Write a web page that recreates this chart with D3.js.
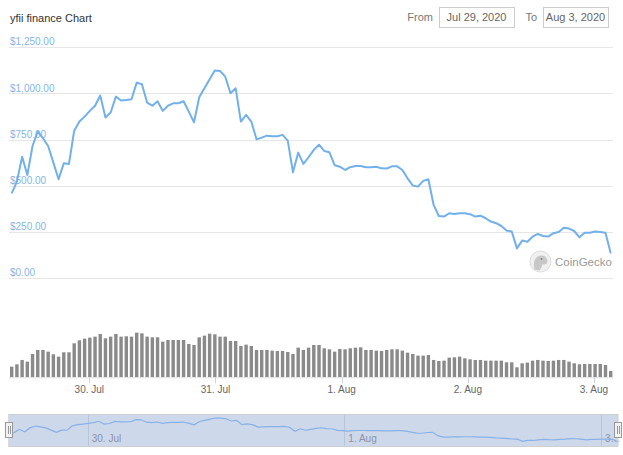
<!DOCTYPE html>
<html>
<head>
<meta charset="utf-8">
<script src="https://cdn.jsdelivr.net/npm/d3@7"></script>
<style>
  html, body { margin: 0; padding: 0; background: #fff; }
  svg { display: block; font-family: "Liberation Sans", Arial, sans-serif; }
</style>
</head>
<body>
<svg id="chart" width="623" height="455"></svg>
<script>
// hourly price (USD), Jul 29 09:14 -> Aug 3 03:11
var priceValues = [
    460, 523, 658, 559, 716, 794, 758, 716, 626, 536,
    622, 619, 799, 848, 875, 906, 934, 989, 870, 897,
    983, 962, 965, 969, 1059, 1050, 951, 934, 958, 906,
    934, 947, 947, 958, 902, 844, 980, 1028, 1077, 1124,
    1122, 1091, 1001, 1028, 848, 884, 848, 752, 761, 772,
    769, 769, 776, 745, 574, 680, 619, 655, 695, 723,
    689, 682, 612, 604, 586, 601, 608, 608, 601, 601,
    604, 595, 594, 606, 606, 586, 541, 502, 496, 527,
    536, 397, 337, 334, 352, 348, 352, 352, 347, 334,
    339, 325, 307, 298, 283, 258, 253, 162, 204, 198,
    225, 240, 229, 226, 244, 251, 274, 269, 256, 222,
    247, 247, 253, 251, 247, 135
];
// traded volume (relative units)
var volumeValues = [
    32, 39, 52, 47, 70, 82, 82, 77, 69, 62,
    75, 75, 102, 111, 116, 119, 122, 130, 117, 122,
    130, 122, 123, 122, 134, 132, 122, 120, 120, 107,
    112, 112, 112, 112, 100, 97, 120, 125, 131, 129,
    122, 122, 109, 109, 94, 98, 94, 82, 82, 82,
    80, 79, 79, 76, 70, 89, 82, 89, 97, 97,
    87, 84, 77, 85, 84, 87, 89, 90, 82, 82,
    80, 79, 82, 84, 84, 80, 74, 70, 65, 65,
    67, 52, 49, 50, 59, 60, 62, 57, 54, 52,
    52, 50, 50, 50, 50, 45, 45, 30, 42, 44,
    50, 52, 50, 49, 50, 52, 52, 47, 42, 39,
    40, 40, 40, 40, 37, 19
];
var yTicks = [0, 250, 500, 750, 1000, 1250];
var startTime = new Date(2020, 6, 29, 9, 14);
var endTime = new Date(2020, 7, 3, 3, 11);
var fromLabel = 'Jul 29, 2020';
var toLabel = 'Aug 3, 2020';
var title = 'yfii finance Chart';

var n = priceValues.length;
var step = (endTime - startTime) / (n - 1);
var data = priceValues.map(function (p, i) {
    return { t: new Date(+startTime + i * step), price: p, vol: volumeValues[i] };
});

var svg = d3.select('#chart');
var lineColor = '#72b0ec';
var dayFormat = d3.timeFormat('%-d. %b');

// header
svg.append('text').attr('x', 10).attr('y', 22)
    .attr('font-size', 11).attr('fill', '#333').text(title);

function dateBox(label, x0, w, txt) {
    svg.append('text').attr('x', x0 - 6).attr('y', 21).attr('text-anchor', 'end')
        .attr('font-size', 11).attr('fill', '#777').text(label);
    svg.append('rect').attr('x', x0 + 0.5).attr('y', 7.5).attr('width', w).attr('height', 20)
        .attr('fill', '#fff').attr('stroke', '#ccc');
    svg.append('text').attr('x', x0 + w / 2).attr('y', 21).attr('text-anchor', 'middle')
        .attr('font-size', 11).attr('fill', '#666').text(txt);
}
dateBox('From', 439, 75, fromLabel);
dateBox('To', 543, 65, toLabel);

// main price panel
var x = d3.scaleTime().domain([startTime, endTime]).range([11.7, 610.7]);
var y = d3.scaleLinear().domain([0, 1250]).range([278.3, 47.3]);

svg.append('g').selectAll('line').data(yTicks).join('line')
    .attr('x1', 9).attr('x2', 613)
    .attr('y1', function (d) { return Math.round(y(d)) + 0.5; })
    .attr('y2', function (d) { return Math.round(y(d)) + 0.5; })
    .attr('stroke', '#e6e6e6');

svg.append('g').selectAll('text').data(yTicks).join('text')
    .attr('x', 10).attr('y', function (d) { return y(d) - 2; })
    .attr('font-size', 10).attr('fill', '#86b6e6')
    .text(function (d) { return '$' + d3.format(',.2f')(d); });

// watermark
var wm = svg.append('g').attr('transform', 'translate(540.5,261.5)');
wm.append('circle').attr('r', 10.5).attr('fill', '#f0f0f0').attr('stroke', '#dcdcdc');
wm.append('path').attr('d', 'M-6,8 C-8,0 -5,-6 1,-6 C5,-6 7,-3 7,0 C7,3 4,3 2,3 C1,6 0,8 -1,9 Z')
    .attr('fill', '#c8c8c8');
wm.append('circle').attr('cx', 1).attr('cy', -2.5).attr('r', 1).attr('fill', '#888');
svg.append('text').attr('x', 555).attr('y', 265.5).attr('font-size', 11.5)
    .attr('fill', '#9a9a9a').text('CoinGecko');

var line = d3.line()
    .x(function (d) { return x(d.t); })
    .y(function (d) { return y(d.price); })
    .curve(d3.curveLinear);

svg.append('path').datum(data).attr('d', line)
    .attr('fill', 'none').attr('stroke', lineColor).attr('stroke-width', 2)
    .attr('stroke-linejoin', 'round');

// volume panel
var vBase = 377.3;
var v = d3.scaleLinear().domain([0, 150]).range([vBase, vBase - 50]);
svg.append('g').selectAll('rect').data(data).join('rect')
    .attr('x', function (d) { return x(d.t) - 1.7; })
    .attr('width', 3.4)
    .attr('y', function (d) { return v(d.vol); })
    .attr('height', function (d) { return vBase - v(d.vol); })
    .attr('fill', '#8a8a8a');

svg.append('line').attr('x1', 9).attr('x2', 613).attr('y1', vBase + 0.5).attr('y2', vBase + 0.5)
    .attr('stroke', '#e6e6e6');

var days = x.ticks(d3.timeDay.every(1));
var xAxis = svg.append('g');
xAxis.selectAll('line').data(days).join('line')
    .attr('x1', function (d) { return Math.round(x(d)) + 0.5; })
    .attr('x2', function (d) { return Math.round(x(d)) + 0.5; })
    .attr('y1', vBase).attr('y2', vBase + 6)
    .attr('stroke', '#ccd6eb');
xAxis.selectAll('text').data(days).join('text')
    .attr('x', function (d) { return x(d); }).attr('y', 393)
    .attr('text-anchor', 'middle').attr('font-size', 10).attr('fill', '#666')
    .text(dayFormat);

// navigator
var navTop = 414, navBottom = 446, navLeft = 8.8, navRight = 618;
var nx = d3.scaleTime().domain([startTime, endTime]).range([navLeft, navRight]);
var ny = d3.scaleLinear().domain(d3.extent(priceValues)).range([442, 418]);

var nav = svg.append('g');
nav.append('rect').attr('x', navLeft).attr('y', navTop)
    .attr('width', navRight - navLeft).attr('height', navBottom - navTop)
    .attr('fill', 'rgba(102,133,194,0.32)');

// every other day, starting from the first full day
var navDays = nx.ticks(d3.timeDay).filter(function (d, i) { return i % 2 === 0; });
nav.selectAll('line.grid').data(navDays).join('line')
    .attr('class', 'grid')
    .attr('x1', function (d) { return Math.round(nx(d)) + 0.5; })
    .attr('x2', function (d) { return Math.round(nx(d)) + 0.5; })
    .attr('y1', navTop).attr('y2', navBottom)
    .attr('stroke', '#b8c3dc');
nav.selectAll('text').data(navDays).join('text')
    .attr('x', function (d) { return nx(d) + 4; }).attr('y', 442)
    .attr('font-size', 10).attr('fill', '#8a93a8')
    .text(dayFormat)
    .each(function () {
        // shorten labels that run past the navigator edge, as the original does
        var el = d3.select(this);
        var room = navRight - 2 - (+el.attr('x'));
        var txt = el.text();
        while (txt.length > 1 && this.getComputedTextLength() > room) {
            txt = txt.slice(0, -1);
            el.text(txt.replace(/\s+$/, '') + '\u2026');
        }
    });

var navLine = d3.line()
    .x(function (d) { return nx(d.t); })
    .y(function (d) { return ny(d.price); });
nav.append('path').datum(data).attr('d', navLine)
    .attr('fill', 'none').attr('stroke', '#86b2e6').attr('stroke-width', 1.2);

svg.append('rect').attr('x', navLeft).attr('y', navTop + 0.5)
    .attr('width', navRight - navLeft).attr('height', navBottom - navTop)
    .attr('fill', 'none').attr('stroke', '#cfcfcf');

[navLeft, navRight].forEach(function (hx) {
    var h = svg.append('g').attr('transform', 'translate(' + Math.round(hx) + ',430)');
    h.append('rect').attr('x', -3.5).attr('y', -7.5).attr('width', 7).attr('height', 15)
        .attr('fill', '#f2f2f2').attr('stroke', '#999');
    h.append('line').attr('x1', -0.5).attr('x2', -0.5).attr('y1', -4).attr('y2', 4).attr('stroke', '#999');
    h.append('line').attr('x1', 1.5).attr('x2', 1.5).attr('y1', -4).attr('y2', 4).attr('stroke', '#999');
});
</script>
</body>
</html>
